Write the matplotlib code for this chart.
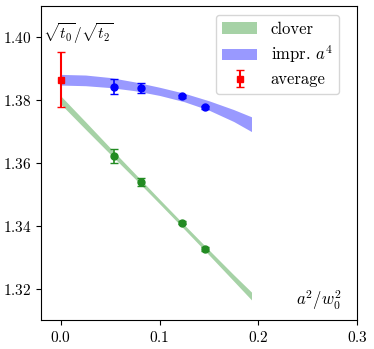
import numpy as np
import matplotlib
matplotlib.use("Agg")
import matplotlib.pyplot as plt

plt.rcParams["font.family"] = "serif"
plt.rcParams["font.serif"] = ["cmr10"]
plt.rcParams["mathtext.fontset"] = "cm"
plt.rcParams["axes.formatter.use_mathtext"] = True
plt.rcParams["font.size"] = 11

# --- data ---
a2 = [0.0535, 0.081, 0.1222, 0.1455]

clover_y = [1.3622, 1.3539, 1.3410, 1.3327]
clover_err = [0.0021, 0.0012, 0.0004, 0.0007]

impr_y = [1.3843, 1.3840, 1.3812, 1.3777]
impr_err = [0.0023, 0.0016, 0.0004, 0.0005]

avg_x = [0.0]
avg_y = [1.3865]
avg_err = [0.0087]

band_x = [0.0, 0.025, 0.05, 0.075, 0.1, 0.125, 0.15, 0.175, 0.193]
clover_lo = [1.3787, 1.3707, 1.3628, 1.3550, 1.3470, 1.3389, 1.3307, 1.3224, 1.3164]
clover_hi = [1.3813, 1.3731, 1.3648, 1.3566, 1.3484, 1.3403, 1.3323, 1.3244, 1.3189]
impr_lo = [1.3848, 1.3846, 1.3840, 1.3830, 1.3815, 1.3795, 1.3768, 1.3732, 1.3700]
impr_hi = [1.3882, 1.3880, 1.3872, 1.3858, 1.3841, 1.3822, 1.3798, 1.3770, 1.3747]

fig = plt.figure(figsize=(3.74, 3.49), dpi=100)
ax = fig.add_axes([0.110, 0.083, 0.845, 0.900])

ax.fill_between(band_x, clover_lo, clover_hi, color="green", alpha=0.35,
                linewidth=0, label="clover")
ax.fill_between(band_x, impr_lo, impr_hi, color="blue", alpha=0.4,
                linewidth=0, label=r"impr. $a^4$")

ax.errorbar(a2, clover_y, yerr=clover_err, fmt="o", color="forestgreen",
            markersize=5, capsize=3, elinewidth=1.2)
ax.errorbar(a2, impr_y, yerr=impr_err, fmt="o", color="blue",
            markersize=5, capsize=3, elinewidth=1.2)
ax.errorbar(avg_x, avg_y, yerr=avg_err, fmt="s", color="red",
            markersize=5, capsize=3, elinewidth=1.5, label="average")

ax.set_xlim(-0.02, 0.3)
ax.set_ylim(1.31, 1.41)
ax.set_xticks([0.0, 0.1, 0.2, 0.3])
ax.set_yticks([1.32, 1.34, 1.36, 1.38, 1.40])

ax.text(0.005, 0.91, r"$\sqrt{t_0}/\sqrt{t_2}$", transform=ax.transAxes,
        ha="left", va="center", fontsize=11)
ax.text(0.88, 0.065, r"$a^2/w_0^2$", transform=ax.transAxes,
        ha="center", va="center", fontsize=12)

ax.legend(loc="upper right", bbox_to_anchor=(0.943, 0.971), borderaxespad=0,
          fontsize=12, handlelength=2.1, labelspacing=0.4)

fig.savefig("out.png", dpi=100)
